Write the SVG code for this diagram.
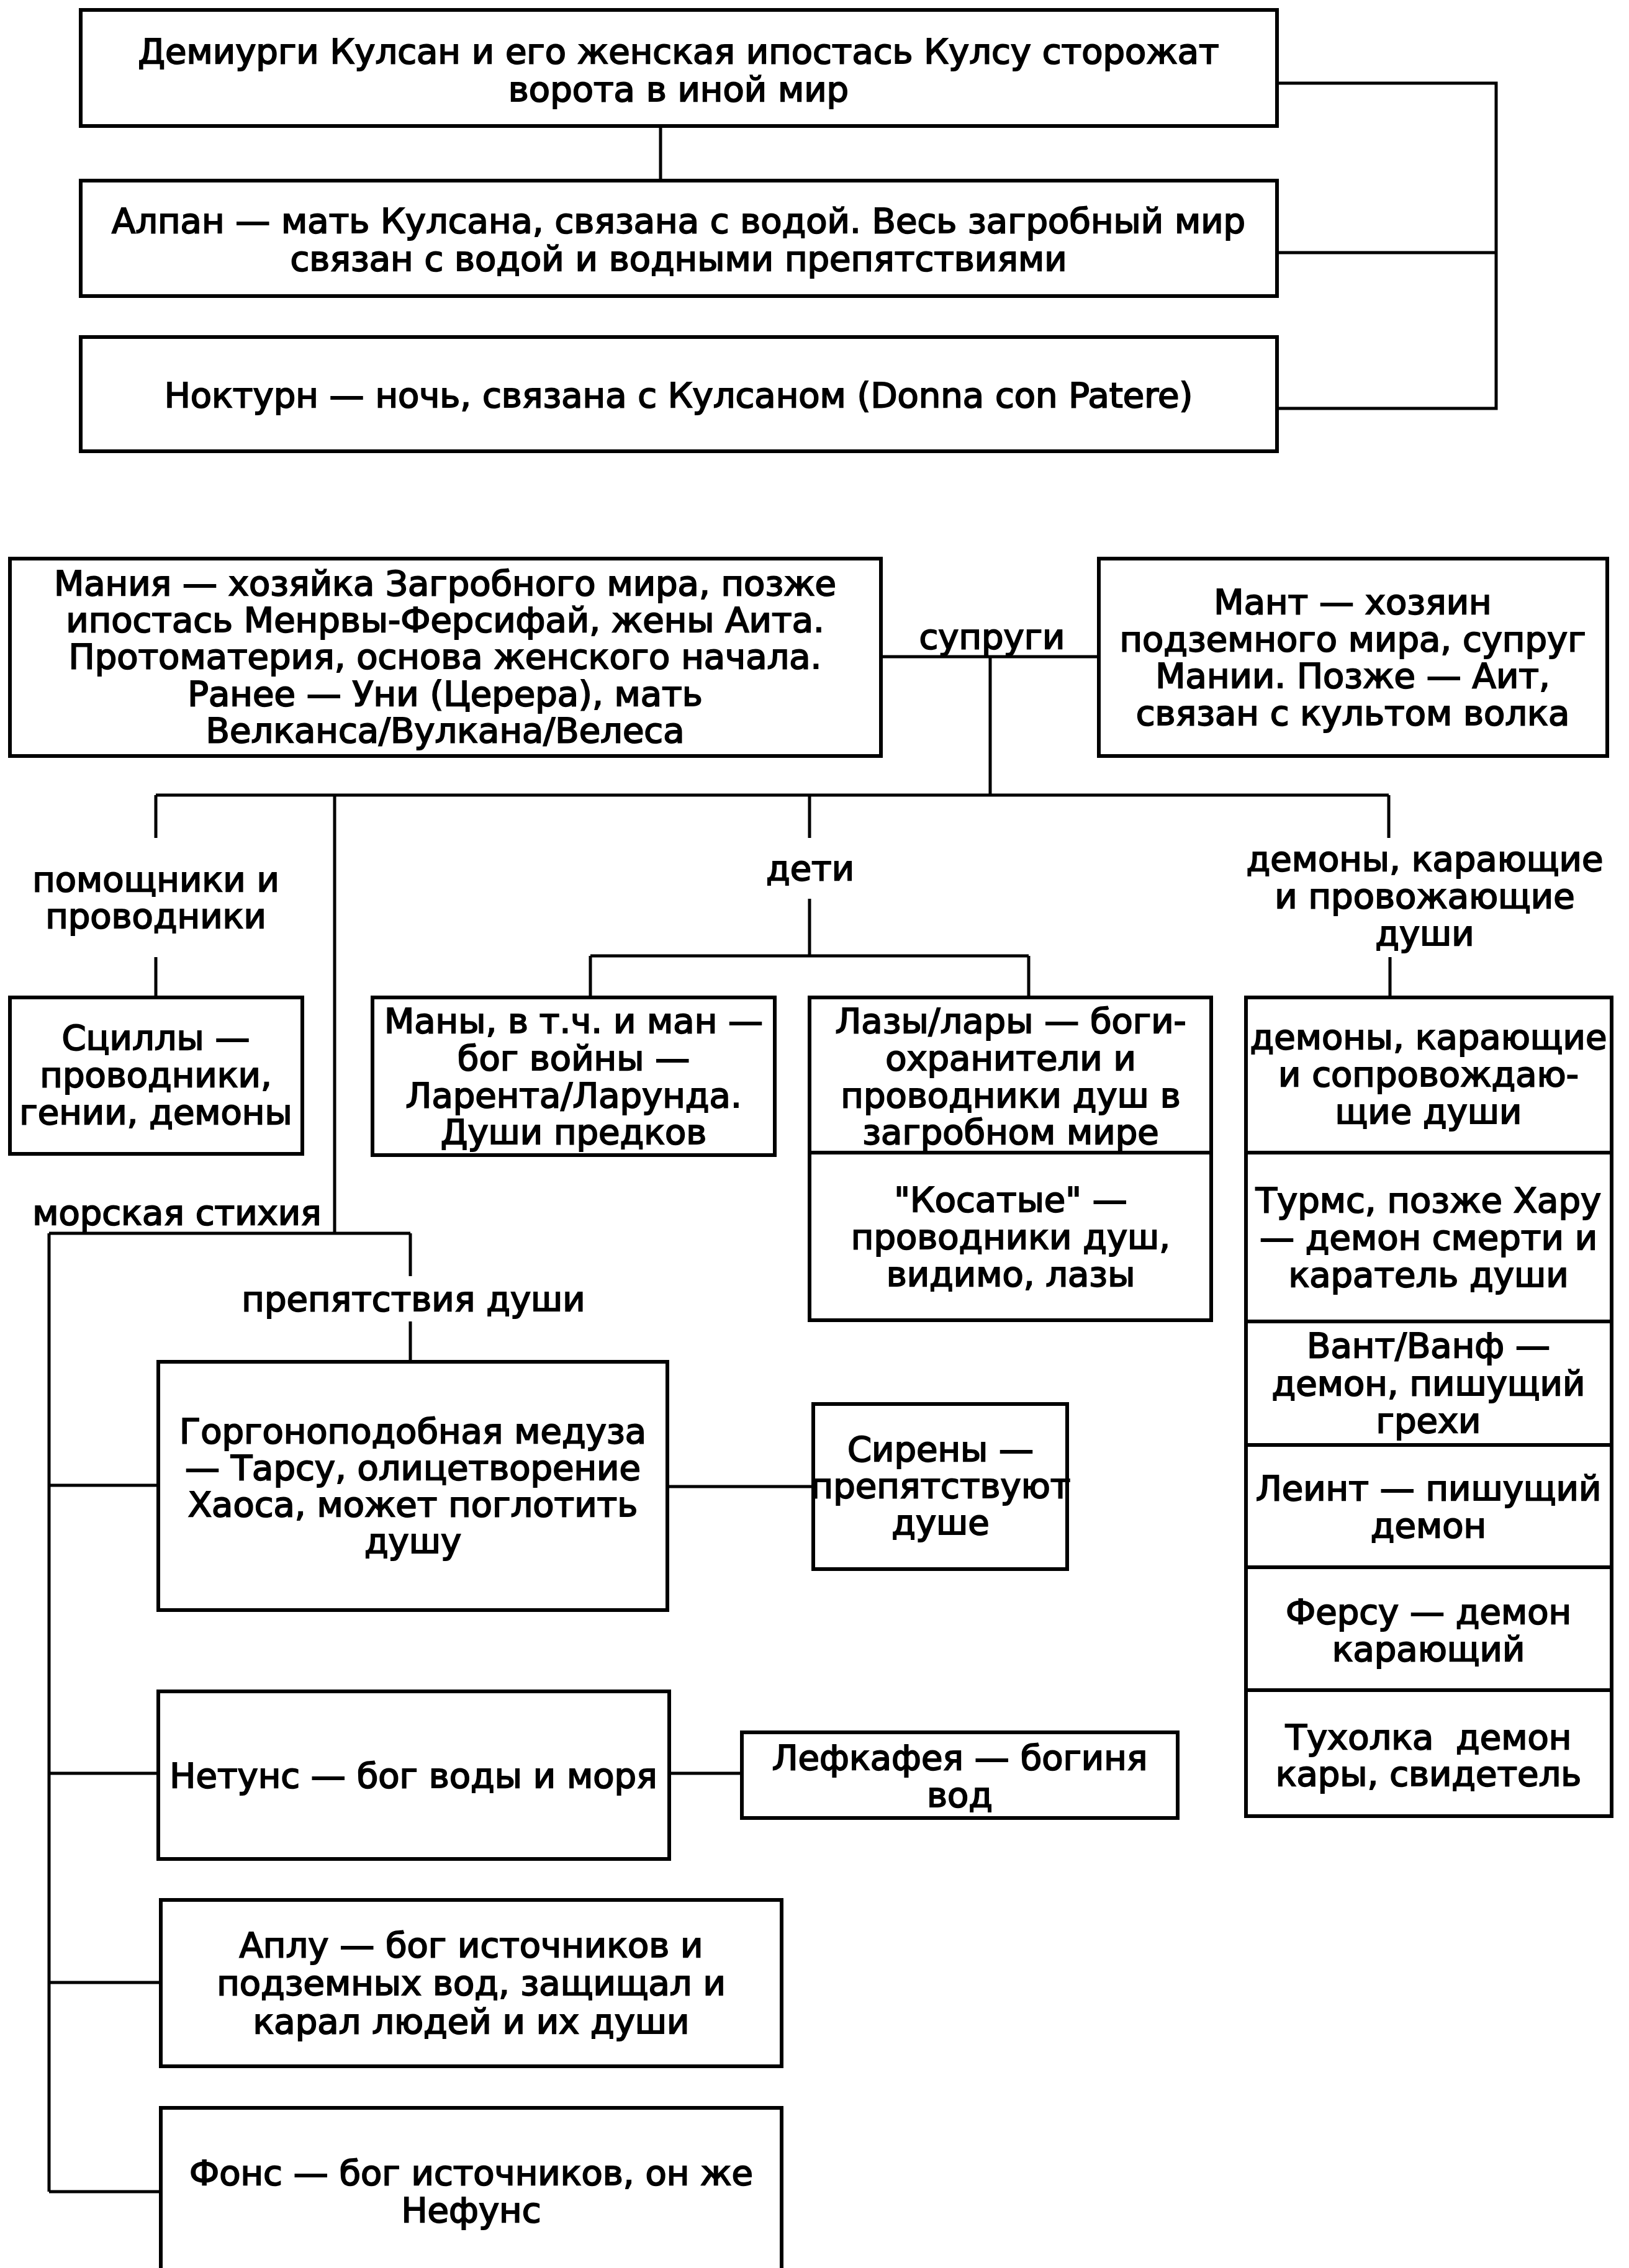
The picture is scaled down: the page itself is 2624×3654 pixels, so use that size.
<svg xmlns="http://www.w3.org/2000/svg" width="2624" height="3654" viewBox="0 0 2624 3654">
<style>
.box{fill:#fff;stroke:#000;stroke-width:6}
.c{fill:none;stroke:#000;stroke-width:5}
text{font-family:"DejaVu Sans","Liberation Sans",Arial,sans-serif;font-size:56px;text-anchor:middle;fill:#000;stroke:#000;stroke-width:2;white-space:pre}
</style>
<rect width="2624" height="3654" fill="#fff"/>
<g id="connectors">
<path class="c" d="M1064 203V291M2057 134H2410V658H2057M2057 407H2410"/>
<path class="c" d="M1419 1058H1770M1595 1058V1281M251 1281H2237M251 1281V1350M539 1281V1987M1304 1281V1350M2237 1281V1350"/>
<path class="c" d="M251 1542V1607M1304 1448V1540M951 1540H1657M951 1540V1607M1657 1540V1607M2239 1542V1607"/>
<path class="c" d="M79 1987H661M661 1987V2056M79 1987V3531M661 2129V2194M79 2393H255M1075 2395H1310M79 2857H255M1078 2857H1195M79 3194H259M79 3531H259"/>
</g>
<g id="labels">
<text x="1598" y="1045">супруги</text>
<text x="251" y="1436">помощники и</text>
<text x="251" y="1495">проводники</text>
<text x="1305" y="1418">дети</text>
<text x="2295" y="1403">демоны, карающие</text>
<text x="2295" y="1463">и провожающие</text>
<text x="2295" y="1523">души</text>
<text x="285" y="1973">морская стихия</text>
<text x="666" y="2112">препятствия души</text>
</g>
<g id="n1"><rect class="box" x="130" y="16" width="1927" height="187"/>
<text x="1093" y="102">Демиурги Кулсан и его женская ипостась Кулсу сторожат</text>
<text x="1093" y="163">ворота в иной мир</text></g>
<g id="n2"><rect class="box" x="130" y="291" width="1927" height="186"/>
<text x="1093" y="375">Алпан — мать Кулсана, связана с водой. Весь загробный мир</text>
<text x="1093" y="436">связан с водой и водными препятствиями</text></g>
<g id="n3"><rect class="box" x="130" y="543" width="1927" height="184"/>
<text x="1093" y="656">Ноктурн — ночь, связана с Кулсаном (Donna con Patere)</text></g>
<g id="mania"><rect class="box" x="16" y="900" width="1403" height="318"/>
<text x="717" y="959">Мания — хозяйка Загробного мира, позже</text>
<text x="717" y="1018">ипостась Менрвы-Ферсифай, жены Аита.</text>
<text x="717" y="1077">Протоматерия, основа женского начала.</text>
<text x="717" y="1137">Ранее — Уни (Церера), мать</text>
<text x="717" y="1196">Велканса/Вулкана/Велеса</text></g>
<g id="mant"><rect class="box" x="1770" y="900" width="819" height="318"/>
<text x="2179" y="989">Мант — хозяин</text>
<text x="2179" y="1049">подземного мира, супруг</text>
<text x="2179" y="1108">Мании. Позже — Аит,</text>
<text x="2179" y="1168">связан с культом волка</text></g>
<g id="scilly"><rect class="box" x="16" y="1607" width="471" height="252"/>
<text x="251" y="1691">Сциллы —</text>
<text x="251" y="1751">проводники,</text>
<text x="251" y="1811">гении, демоны</text></g>
<g id="many"><rect class="box" x="600" y="1607" width="648" height="254"/>
<text x="924" y="1664">Маны, в т.ч. и ман —</text>
<text x="924" y="1724">бог войны —</text>
<text x="924" y="1784">Ларента/Ларунда.</text>
<text x="924" y="1843">Души предков</text></g>
<g id="lazy"><rect class="box" x="1304" y="1607" width="647" height="520"/>
<line class="box" x1="1304" y1="1857" x2="1951" y2="1857"/>
<text x="1628" y="1664">Лазы/лары — боги-</text>
<text x="1628" y="1724">охранители и</text>
<text x="1628" y="1784">проводники душ в</text>
<text x="1628" y="1843">загробном мире</text>
<text x="1628" y="1952">"Косатые" —</text>
<text x="1628" y="2012">проводники душ,</text>
<text x="1628" y="2072">видимо, лазы</text></g>
<g id="demons"><rect class="box" x="2007" y="1607" width="589" height="1319"/>
<path class="box" d="M2007 1857H2596M2007 2129H2596M2007 2328H2596M2007 2525H2596M2007 2723H2596"/>
<text x="2301" y="1690">демоны, карающие</text>
<text x="2301" y="1750">и сопровождаю-</text>
<text x="2301" y="1810">щие души</text>
<text x="2301" y="1953">Турмс, позже Хару</text>
<text x="2301" y="2013">— демон смерти и</text>
<text x="2301" y="2073">каратель души</text>
<text x="2301" y="2187">Вант/Ванф —</text>
<text x="2301" y="2248">демон, пишущий</text>
<text x="2301" y="2308">грехи</text>
<text x="2301" y="2417">Леинт — пишущий</text>
<text x="2301" y="2477">демон</text>
<text x="2301" y="2616">Ферсу — демон</text>
<text x="2301" y="2676">карающий</text>
<text x="2301" y="2818">Тухолка  демон</text>
<text x="2301" y="2877">кары, свидетель</text></g>
<g id="gorgon"><rect class="box" x="255" y="2194" width="820" height="400"/>
<text x="665" y="2325">Горгоноподобная медуза</text>
<text x="665" y="2384">— Тарсу, олицетворение</text>
<text x="665" y="2443">Хаоса, может поглотить</text>
<text x="665" y="2502">душу</text></g>
<g id="sireny"><rect class="box" x="1310" y="2262" width="409" height="266"/>
<text x="1515" y="2354">Сирены —</text>
<text x="1515" y="2413">препятствуют</text>
<text x="1515" y="2472">душе</text></g>
<g id="netuns"><rect class="box" x="255" y="2725" width="823" height="270"/>
<text x="666" y="2880">Нетунс — бог воды и моря</text></g>
<g id="lefkafeya"><rect class="box" x="1195" y="2791" width="702" height="138"/>
<text x="1546" y="2851">Лефкафея — богиня</text>
<text x="1546" y="2911">вод</text></g>
<g id="aplu"><rect class="box" x="259" y="3061" width="1000" height="268"/>
<text x="759" y="3153">Аплу — бог источников и</text>
<text x="759" y="3214">подземных вод, защищал и</text>
<text x="759" y="3276">карал людей и их души</text></g>
<g id="fons"><rect class="box" x="259" y="3396" width="1000" height="300"/>
<text x="759" y="3520">Фонс — бог источников, он же</text>
<text x="759" y="3580">Нефунс</text></g>
</svg>
